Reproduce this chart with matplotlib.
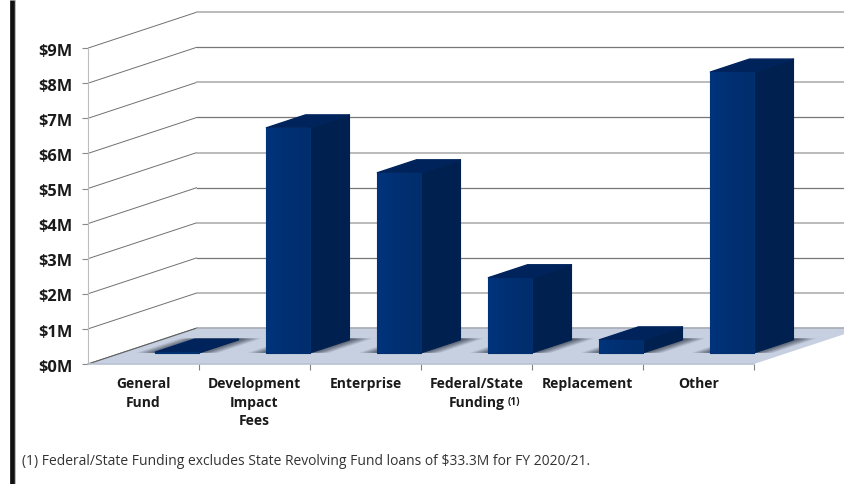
import numpy as np
import matplotlib
matplotlib.use("Agg")
import matplotlib.pyplot as plt
from matplotlib.patches import Polygon
from matplotlib.lines import Line2D
from matplotlib.transforms import ScaledTranslation

categories = ["General\nFund", "Development\nImpact\nFees", "Enterprise",
              "Federal/State\nFunding", "Replacement", "Other"]
values = [0.02, 6.41, 5.13, 2.14, 0.37, 8.00]
y_ticks = [0, 1, 2, 3, 4, 5, 6, 7, 8, 9]
y_labels = [f"${v}M" for v in y_ticks]
footnote = "(1) Federal/State Funding excludes State Revolving Fund loans of $33.3M for FY 2020/21."

W, H = 845, 484
PX_X, PX_Y = 111.0, 35.1      # pixels per category / per $M
X0, Y0 = 88.0, 364.0          # pixel position of the origin
DX, DY = 109 / PX_X, 36 / PX_Y  # oblique depth vector, in data units

plt.rcParams["font.family"] = ["Open Sans", "DejaVu Sans"]
fig = plt.figure(figsize=(W / 100, H / 100), dpi=100, facecolor="white")
ax = fig.add_axes([0, 0, 1, 1])
ax.set_xlim(-X0 / PX_X, (W - X0) / PX_X)
ax.set_ylim((Y0 - H) / PX_Y, Y0 / PX_Y)
ax.patch.set_visible(False)


def proj(x, v, d):
    return (x + d * DX, v + d * DY)


# walls: gridlines
for k, v in enumerate(y_ticks):
    col = "#777777" if k % 2 == 0 else "#b5b5b5"
    lw = 0.9 if k % 2 == 0 else 1.3
    a = proj(0, v, 0)
    b = proj(0, v, 1)
    ax.plot([a[0], b[0]], [a[1], b[1]], color="#707070", lw=0.7, zorder=1, solid_capstyle="butt")
    ax.plot([b[0], 8], [b[1], b[1]], color=col, lw=lw, zorder=1)

# floor
n = len(categories)
ax.add_patch(Polygon([proj(0, 0, 0), proj(0, 0, 1), proj(n, 0, 1), proj(n, 0, 0)],
                     closed=True, fc="#c7d0e0", ec="none", zorder=2))
ax.plot([0, DX], [0, DY], color="#606060", lw=0.8, zorder=2.1)
ax.plot([DX, n + DX], [DY, DY], color="#a8adb5", lw=1.2, zorder=2.1)

# bars
M = 0.302
D0, D1 = 0.31, 0.67
for i, v in enumerate(values):
    xl, xr = i + M, i + 1 - M
    # soft floor shadow
    for e, al in zip(np.linspace(0.17, 0.0, 10), np.linspace(0.10, 0.22, 10)):
        ax.add_patch(Polygon([proj(xl - e, 0, D0), proj(xl - e, 0, D1 + 0.04),
                              proj(xr + e, 0, D1 + 0.04), proj(xr + e, 0, D0)],
                             closed=True, fc="#3f4757", ec="none", alpha=al, zorder=3))
    top = [proj(xl, v, D0), proj(xl, v, D1), proj(xr, v, D1), proj(xr, v, D0)]
    side = [proj(xr, 0, D0), proj(xr, 0, D1), proj(xr, v, D1), proj(xr, v, D0)]
    front = [proj(xl, 0, D0), proj(xr, 0, D0), proj(xr, v, D0), proj(xl, v, D0)]
    z = 4 + i * 0.1
    ax.add_patch(Polygon(side, closed=True, fc="#00214f", ec="#00214f", lw=0.8,
                         joinstyle="round", zorder=z))
    ax.add_patch(Polygon(top, closed=True, fc="#00235c", ec="#00235c", lw=1.0,
                         joinstyle="round", zorder=z))
    fp = Polygon(front, closed=True, fc="#002f72", ec="#00306f", lw=0.8,
                 joinstyle="round", zorder=z + 0.01)
    ax.add_patch(fp)
    if v > 0.1:
        grad = np.array([[0.0, 0.25, 0.55, 0.75, 1.0]])
        cmap = matplotlib.colors.LinearSegmentedColormap.from_list("f", ["#00337a", "#002d6c"])
        im = ax.imshow(grad, cmap=cmap, aspect="auto", zorder=z + 0.02, interpolation="bilinear",
                       extent=(front[0][0], front[1][0], front[0][1], front[2][1]))
        im.set_clip_path(fp)
ax.set_xlim(-X0 / PX_X, (W - X0) / PX_X)
ax.set_ylim((Y0 - H) / PX_Y, Y0 / PX_Y)

# axes
for s in ("top", "right"):
    ax.spines[s].set_visible(False)
ax.spines["left"].set_position(("data", 0))
ax.spines["bottom"].set_position(("data", 0))
ax.spines["left"].set_bounds(0, 9)
ax.spines["bottom"].set_bounds(0, n)
ax.spines["left"].set_color("#bdbdbd")
ax.spines["bottom"].set_color("#b9c2d2")
ax.spines["bottom"].set_linewidth(1.2)
ax.spines["left"].set_zorder(2)
ax.set_yticks(y_ticks, y_labels, fontweight="bold", fontsize=11.8, color="#1a1a1a")
ax.tick_params(axis="y", length=4.3, width=0.8, color="#8a8a8a", pad=7.0)
ax.set_xticks(np.arange(1, n + 1), [""] * n)
ax.tick_params(axis="x", which="major", length=4.3, width=0.8, color="#808080")
ax.set_xticks(np.arange(n) + 0.5, categories, minor=True, fontweight="bold", fontsize=10,
              color="#1a1a1a", linespacing=1.42)
ax.tick_params(axis="x", which="minor", length=0, pad=9.5)

shift = ScaledTranslation(0, -1.2 / 72, fig.dpi_scale_trans)
for lab in ax.get_yticklabels():
    lab.set_transform(lab.get_transform() + shift)

ax.text(3 + 0.5 + 31 / PX_X, (Y0 - 402) / PX_Y, "(1)", fontsize=7.2, fontweight="bold",
        color="#1a1a1a", ha="left", va="center")
ax.text((22 - X0) / PX_X, (Y0 - 461.5) / PX_Y, footnote, fontsize=10, color="#333333",
        ha="left", va="center")

# page frame on the left
fig.add_artist(Line2D([12.5 / W, 12.5 / W], [0, 1], color="#111111", lw=3.4,
                      solid_capstyle="butt"))
fig.add_artist(Line2D([15 / W, 15 / W], [0, 1], color="#b0b0b0", lw=0.6))

fig.savefig("out.png", dpi=100, facecolor="white")
